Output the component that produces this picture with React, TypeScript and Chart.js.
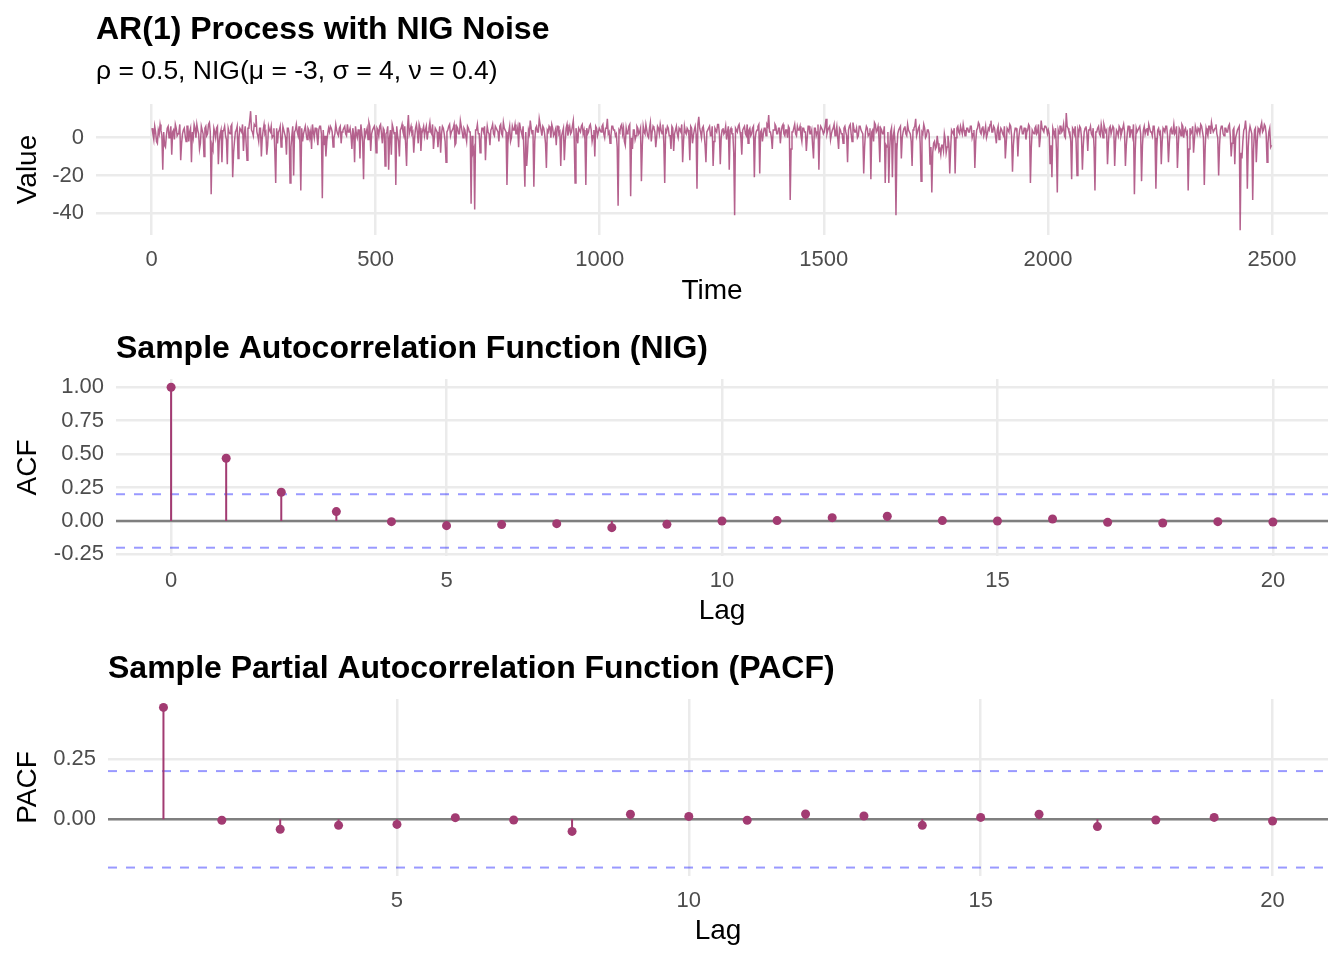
import { useEffect, useRef } from "react";
import { Chart, registerables } from "chart.js";

Chart.register(...registerables);

const FONT = '"Liberation Sans", Arimo, Arial, Helvetica, sans-serif';

// ---- Panel 1: AR(1) series, read at t = 1, 5, 9, ... (A) and t = 3, 7, 11, ... (B) ----
const TIME_START = 1;
const TIME_STEP = 4;
const seriesA0to500 = [
  5, -1, 3, -3, 2, 4, -17, -4, 1, 6,
  2, -9, 4, 7, 1, 3, -12, 2, 5, -2,
  6, 3, -13, 0, 5, 7, 2, -3, 4, -10,
  6, 2, 8, -30, -6, 3, 5, -14, 2, -13,
  4, 1, -14, 3, 6, -21, -2, 4, -11, 5,
  3, -7, 6, -12, 5, 14, 3, 7, 12, 1,
  5, -10, 4, 2, -9, 6, 3, 0, 5, -24,
  -3, 4, -5, 6, 2, -9, 5, -24, 1, -20,
  4, 3, 6, -28, -2, 4, 2, 5, 0, -6,
  3, 5, 1, 4, 6, -32, -4, -10, 2, 3,
  5, -5, 2, 4, 1, 6, 3, 5, 2, 7,
  3, 1, 5, -13, 2, 4, -11, 3, -22, 1,
  5, 8, -7, 4, 6,
];
const seriesB0to500 = [
  2, 6, -2, 4, 7, 1, 3, -5, 5, 0,
  6, 3, -1, 5, 2, 7, -3, 4, 1, 6,
  -2, 5, 3, 7, 0, 4, -6, 6, 2, 5,
  1, 7, 3, -4, 5, 0, 6, -2, 4, 3,
  6, -1, 5, 2, 7, -8, 3, 6, 0, 4,
  7, 2, -3, 5, 9, 4, 1, 6, 3, -2,
  5, 0, 7, 3, -4, 4, 6, 1, -7, 5,
  3, 6, -2, 4, 0, 5, 2, -5, 6, 3,
  7, 1, -3, 5, 2, 6, -1, 4, 3, 7,
  0, 5, -4, 6, 2, 4, 1, -2, 5, 6,
  3, 0, 7, 2, 5, -3, 4, 6, 1, 3,
  5, -6, 2, 6, 0, 4, 7, -2, 5, 3,
  -1, 6, 2, 5, 3,
];
const seriesA500to1000 = [
  -8, 4, 6, 2, 5, -15, 3, -17, 4, 7,
  2, -25, 1, -10, 5, 3, 6, -15, 12, 4,
  2, -8, 5, 3, 7, -7, 4, 1, 6, 3,
  8, 2, -6, 5, 3, 1, -8, 6, 2, -13,
  4, 7, 3, 5, -4, 6, 2, 9, 3, 5,
  1, 6, 3, -35, -8, -38, 4, 2, -8, 5,
  3, -12, 6, 2, 4, 7, 1, 5, 3, 6,
  2, 8, 4, -25, 3, -2, 6, 4, 2, 5,
  8, 3, 6, -26, -15, 4, 9, 2, -26, 5,
  3, 10, 4, 6, 2, -16, 3, 5, 7, 1,
  4, 6, 2, -15, 3, -12, 5, 1, 6, 3,
  9, -24, 2, 5, 3, 7, 4, -25, 2, 6,
  4, 1, -10, 5, 3,
];
const seriesB500to1000 = [
  5, 1, 7, -3, 4, 2, 6, 0, -9, 5,
  3, 6, -2, 4, 7, 1, -4, 5, 2, 6,
  3, 0, 7, -3, 5, 2, 6, 4, -1, 5,
  3, 7, 0, 4, -5, 6, 2, 5, -2, 3,
  6, 1, 4, 7, -3, 5, 2, 6, 0, 4,
  -2, 5, 3, 1, -6, 4, 7, 2, -1, 5,
  6, 0, 3, -4, 5, 2, 6, 4, -2, 7,
  1, 5, 3, -3, 6, 0, 4, 7, 2, -5,
  5, 1, 6, 3, -7, 2, 5, 4, -2, 6,
  3, 7, 1, 5, -3, 4, 6, 0, 5, 2,
  -4, 6, 3, 1, 5, -2, 7, 4, 2, 6,
  0, 5, -3, 4, 6, 2, -1, 5, 3, 7,
  -2, 4, 6, 1, 5,
];
const seriesA1000to1500 = [
  4, 6, 2, 5, 10, 3, 1, 6, 4, 2,
  -36, 3, 7, 5, -4, 2, 6, -31, -6, 4,
  1, 5, 3, -23, 6, 2, 4, 0, 8, 3,
  5, -5, 6, 2, 4, 7, -24, 3, 5, 1,
  6, -7, 4, 2, 5, 3, -13, 6, 2, 4,
  -12, 5, 1, 6, -27, 11, 3, 5, 2, -13,
  4, 6, 1, -15, 5, 3, 7, -14, 4, 2,
  6, 3, -17, 5, 2, -41, 4, 6, 3, -9,
  5, 2, 7, 4, 1, 5, -21, 3, 6, -19,
  4, 2, 5, 7, 12, 3, -6, 4, 6, 2,
  5, 3, 7, 1, 4, 6, -33, 3, 5, 2,
  6, 4, 1, 5, 3, -7, 6, 2, 4, -11,
  5, 3, -17, 6, 4,
];
const seriesB1000to1500 = [
  3, 7, 0, 5, 2, -3, 6, 4, 1, -5,
  4, 6, 2, -2, 5, 3, 7, 0, 4, -1,
  6, 2, 5, -4, 3, 7, 1, 5, -2, 6,
  3, 0, 5, 7, 2, -3, 4, 6, 1, -6,
  5, 2, 6, 0, 4, 7, -2, 3, 5, 1,
  6, -3, 4, 2, 7, 5, 0, 6, -4, 3,
  5, 1, 6, -2, 4, 7, 2, 0, 5, 3,
  -1, 6, 4, 2, -8, 5, 3, 7, 0, 4,
  6, 1, -3, 5, 2, 6, 0, 4, 7, 3,
  -2, 5, 1, 6, 3, 0, 4, 7, 2, 5,
  -3, 6, 2, 4, 0, 5, -6, 3, 7, 1,
  4, 6, -2, 5, 3, 0, 6, 2, -4, 5,
  1, 7, 3, 5, 2,
];
const seriesA1500to2000 = [
  3, 10, 4, 6, 2, 5, 1, 6, -6, 4,
  2, 5, 3, -13, 6, 2, 8, 3, 5, 1,
  6, 4, -19, 3, 5, 2, -22, 4, 8, 3,
  6, -13, 4, 2, -24, -5, -24, 3, -21, 4,
  -41, 2, 5, -11, 3, 6, 1, 4, 2, -15,
  5, 10, 3, 6, -23, 2, 5, 1, 4, -14,
  -29, -3, -6, 1, -7, -9, -4, 2, -8, 1,
  -19, 4, 2, -19, 5, 3, 6, 2, 4, 1,
  5, 3, 6, 2, -16, 4, 8, 3, 5, 1,
  6, 2, 4, 9, 3, 5, -3, 6, 2, 4,
  1, -11, 5, 3, 6, -18, 2, 5, -10, 4,
  6, 2, 5, 3, 7, -24, 4, 2, 6, 3,
  -5, 9, 4, 6, 5,
];
const seriesB1500to2000 = [
  6, 2, 5, -1, 4, 7, 3, 0, 5, 2,
  -3, 6, 1, 4, 7, -2, 5, 3, 0, 6,
  4, 2, -5, 6, 1, 5, 3, -2, 7, 4,
  0, 5, 2, 6, -4, 3, -6, 5, 1, -3,
  -7, 4, 6, 0, 5, 2, 7, 3, -2, 4,
  6, 1, 5, -3, 3, 7, 0, 4, 2, -5,
  -8, -2, -5, -3, -6, -4, -7, -1, -5, -3,
  -6, 3, 5, 0, 6, 2, 4, 7, 1, 5,
  3, 6, 0, 4, -2, 5, 7, 2, 6, 3,
  0, 5, 7, 3, 6, 1, 4, -1, 5, 2,
  6, -3, 4, 7, 1, -4, 5, 3, 0, 6,
  2, 5, -1, 4, 6, -5, 3, 5, 2, 7,
  0, 5, 3, 6, 2,
];
const seriesA2000to2500 = [
  4, -14, -21, 3, 5, -29, 2, 6, 4, 1,
  13, 5, 3, -22, 4, 6, -20, 2, 5, -17,
  3, 6, -7, 4, 2, 5, -28, 3, 6, 1,
  4, 7, 3, -14, 5, 2, 6, -15, 4, 1,
  5, 3, 7, -15, 2, 6, 4, 1, -30, 5,
  3, 6, -23, 4, 2, 5, 7, 3, 1, 6,
  -27, 4, 2, -14, 5, 3, 6, -13, 4, 2,
  7, 3, -16, 5, 1, 6, 4, 2, -28, 5,
  3, -8, 6, 2, 4, 7, 3, -25, 5, 1,
  6, 8, 3, 5, 2, -20, 4, 6, 1, 5,
  3, 7, -10, 4, -14, 2, 5, -49, -11, 4,
  9, -27, 3, 6, -33, 4, -13, 5, 2, 8,
  4, 6, -13, 3, -5,
];
const seriesB2000to2500 = [
  2, -4, 5, 1, -6, 4, 6, 3, 7, 0,
  6, 3, -2, 5, 2, -3, 4, 6, 0, -4,
  5, 2, 4, 6, 1, -5, 3, 5, 2, 7,
  0, 5, 4, -3, 6, 2, 5, -2, 3, 6,
  1, 5, 3, -4, 6, 0, 4, 7, -6, 3,
  5, 2, -4, 6, 4, 1, 5, 3, 6, 0,
  -5, 5, 3, -2, 4, 6, 1, -3, 5, 3,
  2, 6, -4, 4, 7, 0, 5, 3, -6, 2,
  6, -1, 4, 5, 2, 6, 0, -5, 3, 6,
  2, 5, 4, 7, 0, -4, 6, 2, 5, 3,
  6, 1, -3, 5, 0, 4, 6, -8, -2, 5,
  3, -5, 6, 2, -6, 5, -2, 4, 6, 3,
  7, 2, -3, 5, -4,
];
const timeTicks = [0, 500, 1000, 1500, 2000, 2500];
const valueTicks = [-40, -20, 0];

// ---- Panel 2: ACF ----
const acfLags = [0, 1, 2, 3, 4, 5, 6, 7, 8, 9, 10, 11, 12, 13, 14, 15, 16, 17, 18, 19, 20];
const acfValues = [
  1.0, 0.469, 0.215, 0.07, -0.005, -0.035, -0.027, -0.02, -0.05, -0.025,
  0.0, 0.003, 0.025, 0.035, 0.003, 0.0, 0.015, -0.01, -0.015, -0.005, -0.008,
];
const acfYTicks = [-0.25, 0, 0.25, 0.5, 0.75, 1.0];
const acfXTicks = [0, 5, 10, 15, 20];

// ---- Panel 3: PACF ----
const pacfLags = [1, 2, 3, 4, 5, 6, 7, 8, 9, 10, 11, 12, 13, 14, 15, 16, 17, 18, 19, 20];
const pacfValues = [
  0.464, -0.004, -0.041, -0.025, -0.021, 0.007, -0.003, -0.05, 0.021, 0.012,
  -0.004, 0.022, 0.014, -0.025, 0.008, 0.021, -0.03, -0.003, 0.008, -0.007,
];
const pacfYTicks = [0, 0.25];
const pacfXTicks = [5, 10, 15, 20];

const confBound = 0.2;

const MAIN = "#A23B72";
const LINE = "rgba(162,59,114,0.8)";
const GRID = "#EBEBEB";
const TICK = "#4D4D4D";

const textPlugin = {
  id: "panelText",
  afterDraw(chart: any, _args: any, opts: any) {
    const ctx = chart.ctx;
    ctx.save();
    ctx.textAlign = "left";
    ctx.textBaseline = "alphabetic";
    for (const t of opts.items || []) {
      ctx.font = t.font;
      ctx.fillStyle = t.color || "#000";
      ctx.fillText(t.text, t.x, t.y);
    }
    ctx.restore();
  },
};

function xScale(min: number, max: number, ticks: number[], title: string, height: number) {
  return {
    type: "linear",
    min,
    max,
    afterBuildTicks: (s: any) => {
      s.ticks = ticks.map((v) => ({ value: v }));
    },
    afterFit: (s: any) => {
      s.height = height;
    },
    grid: { color: GRID, lineWidth: 2.5, drawTicks: false },
    border: { display: false },
    ticks: {
      padding: 12,
      color: TICK,
      font: { family: FONT, size: 22 },
      maxRotation: 0,
      autoSkip: false,
      callback: (v: any) => String(v),
    },
    title: {
      display: true,
      text: title,
      color: "#000",
      font: { family: FONT, size: 28 },
      padding: { top: 0, bottom: 12 },
    },
  };
}

function yScale(min: number, max: number, ticks: number[], title: string, width: number, fmt: (v: number) => string) {
  return {
    type: "linear",
    min,
    max,
    afterBuildTicks: (s: any) => {
      s.ticks = ticks.map((v) => ({ value: v }));
    },
    afterFit: (s: any) => {
      s.width = width;
    },
    grid: { color: GRID, lineWidth: 2.5, drawTicks: false },
    border: { display: false },
    ticks: {
      padding: 12,
      color: TICK,
      font: { family: FONT, size: 22 },
      autoSkip: false,
      callback: (v: any) => fmt(Number(v)),
    },
    title: {
      display: true,
      text: title,
      color: "#000",
      font: { family: FONT, size: 28 },
      padding: { top: 11, bottom: 0 },
    },
  };
}

function makeSeriesChart(canvas: HTMLCanvasElement) {
  const pairs: [number[], number[]][] = [
    [seriesA0to500, seriesB0to500],
    [seriesA500to1000, seriesB500to1000],
    [seriesA1000to1500, seriesB1000to1500],
    [seriesA1500to2000, seriesB1500to2000],
    [seriesA2000to2500, seriesB2000to2500],
  ];
  const data: { x: number; y: number }[] = [];
  let k = 0;
  for (const [a, b] of pairs) {
    for (let i = 0; i < a.length; i++) {
      const t = TIME_START + (k + i) * TIME_STEP;
      data.push({ x: t, y: a[i] });
      if (i < b.length) data.push({ x: t + TIME_STEP / 2, y: b[i] });
    }
    k += a.length;
  }
  return new Chart(canvas, {
    type: "line",
    data: {
      datasets: [
        {
          data,
          borderColor: LINE,
          borderWidth: 1.5,
          pointRadius: 0,
          tension: 0,
          fill: false,
        },
      ],
    },
    options: {
      responsive: false,
      animation: false,
      devicePixelRatio: 1,
      layout: { padding: { top: 104, right: 16, left: 0, bottom: 0 } },
      plugins: {
        legend: { display: false },
        tooltip: { enabled: false },
        panelText: {
          items: [
            { text: "AR(1) Process with NIG Noise", x: 96, y: 39, font: `bold 32px ${FONT}` },
            { text: "ρ = 0.5, NIG(μ = -3, σ = 4, ν = 0.4)", x: 96, y: 79, font: `26.5px ${FONT}` },
          ],
        },
      } as any,
      scales: {
        x: xScale(-124, 2625, timeTicks, "Time", 85),
        y: yScale(-51.5, 17.8, valueTicks, "Value", 96, (v) => String(v)),
      } as any,
    },
    plugins: [textPlugin],
  } as any);
}

function makeCorrChart(
  canvas: HTMLCanvasElement,
  lags: number[],
  vals: number[],
  xMin: number,
  xMax: number,
  xTicks: number[],
  yMin: number,
  yMax: number,
  yTicks: number[],
  yTitle: string,
  yWidth: number,
  title: string
) {
  const points = lags.map((l, i) => ({ x: l, y: vals[i] }));
  const stems: any[] = [];
  lags.forEach((l, i) => {
    stems.push({ x: l, y: 0 }, { x: l, y: vals[i] }, { x: l, y: null });
  });
  return new Chart(canvas, {
    type: "line",
    data: {
      datasets: [
        {
          data: points,
          showLine: false,
          pointRadius: 4.5,
          pointBackgroundColor: MAIN,
          pointBorderWidth: 0,
          order: 0,
        },
        {
          data: stems,
          borderColor: MAIN,
          borderWidth: 2,
          pointRadius: 0,
          spanGaps: false,
          order: 1,
        },
        {
          data: [
            { x: xMin, y: confBound },
            { x: xMax, y: confBound },
          ],
          borderColor: "rgba(0,0,255,0.4)",
          borderWidth: 2,
          borderDash: [9, 9],
          pointRadius: 0,
          order: 2,
        },
        {
          data: [
            { x: xMin, y: -confBound },
            { x: xMax, y: -confBound },
          ],
          borderColor: "rgba(0,0,255,0.4)",
          borderWidth: 2,
          borderDash: [9, 9],
          pointRadius: 0,
          order: 3,
        },
        {
          data: [
            { x: xMin, y: 0 },
            { x: xMax, y: 0 },
          ],
          borderColor: "#7F7F7F",
          borderWidth: 2.5,
          pointRadius: 0,
          order: 4,
        },
      ],
    },
    options: {
      responsive: false,
      animation: false,
      devicePixelRatio: 1,
      layout: { padding: { top: 59, right: 16, left: 0, bottom: 0 } },
      plugins: {
        legend: { display: false },
        tooltip: { enabled: false },
        panelText: {
          items: [{ text: title, x: yWidth, y: 38, font: `bold 32px ${FONT}` }],
        },
      } as any,
      scales: {
        x: xScale(xMin, xMax, xTicks, "Lag", 84),
        y: yScale(yMin, yMax, yTicks, yTitle, yWidth, (v) => v.toFixed(2)),
      } as any,
    },
    plugins: [textPlugin],
  } as any);
}

export default function App() {
  const r1 = useRef<HTMLCanvasElement>(null);
  const r2 = useRef<HTMLCanvasElement>(null);
  const r3 = useRef<HTMLCanvasElement>(null);

  useEffect(() => {
    Chart.defaults.font.family = FONT;
    const charts = [
      makeSeriesChart(r1.current!),
      makeCorrChart(r2.current!, acfLags, acfValues, -1, 21, acfXTicks, -0.262, 1.062, acfYTicks, "ACF", 116,
        "Sample Autocorrelation Function (NIG)"),
      makeCorrChart(r3.current!, pacfLags, pacfValues, 0.05, 20.95, pacfXTicks, -0.235, 0.499, pacfYTicks, "PACF", 108,
        "Sample Partial Autocorrelation Function (PACF)"),
    ];
    return () => charts.forEach((c) => c.destroy());
  }, []);

  const cs: any = { position: "absolute", left: 0, display: "block" };
  return (
    <div style={{ position: "absolute", left: 0, top: 0, width: 1344, height: 960, background: "#fff" }}>
      <canvas ref={r1} width={1344} height={320} style={{ ...cs, top: 0 }} />
      <canvas ref={r2} width={1344} height={320} style={{ ...cs, top: 320 }} />
      <canvas ref={r3} width={1344} height={320} style={{ ...cs, top: 640 }} />
    </div>
  );
}
